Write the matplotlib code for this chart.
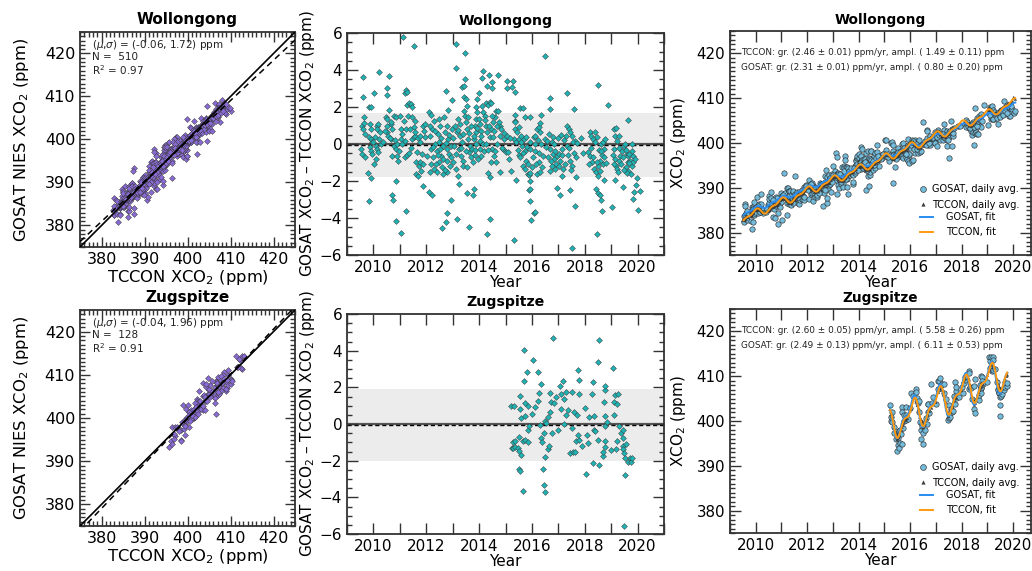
import numpy as np
import matplotlib
matplotlib.use("Agg")
import matplotlib.pyplot as plt
from matplotlib.ticker import MultipleLocator, FuncFormatter
from matplotlib.lines import Line2D

# ---------------------------------------------------------------- Wollongong
# coincident GOSAT/TCCON days: decimal year, TCCON daily XCO2 (ppm),
# GOSAT minus TCCON difference (ppm)
wol_year = [
    2009.53, 2009.55, 2009.56, 2009.59, 2009.59, 2009.59, 2009.63, 2009.65, 2009.68, 2009.80,
    2009.84, 2009.84, 2009.85, 2009.88, 2009.88, 2009.90, 2009.90, 2009.90, 2009.92, 2009.92,
    2009.96, 2010.00, 2010.03, 2010.04, 2010.09, 2010.10, 2010.12, 2010.12, 2010.15, 2010.19,
    2010.21, 2010.21, 2010.25, 2010.30,
    2010.38, 2010.46, 2010.50, 2010.50, 2010.50, 2010.53, 2010.53, 2010.55, 2010.59, 2010.60,
    2010.65, 2010.65, 2010.69, 2010.71, 2010.71, 2010.74, 2010.78, 2010.78, 2010.84, 2010.84,
    2010.85, 2010.86, 2010.88, 2010.90, 2010.94, 2011.00, 2011.03, 2011.03, 2011.05, 2011.09,
    2011.11,
    2011.15, 2011.21, 2011.21, 2011.23, 2011.24, 2011.25, 2011.28, 2011.28, 2011.28, 2011.31,
    2011.34, 2011.36, 2011.40, 2011.41, 2011.46, 2011.46, 2011.46, 2011.53, 2011.53, 2011.53,
    2011.59, 2011.59, 2011.63, 2011.63, 2011.68, 2011.69, 2011.71, 2011.78, 2011.78, 2011.80,
    2011.84, 2011.88, 2011.88, 2011.90, 2011.94, 2012.09,
    2012.09, 2012.13, 2012.13, 2012.18, 2012.18, 2012.18, 2012.21, 2012.21, 2012.26, 2012.29,
    2012.29, 2012.34, 2012.40, 2012.40, 2012.43, 2012.49, 2012.49, 2012.50, 2012.53, 2012.53,
    2012.55, 2012.60, 2012.61, 2012.65, 2012.65, 2012.68, 2012.71, 2012.74, 2012.76, 2012.78,
    2012.78, 2012.78, 2012.78, 2012.80, 2012.84, 2012.84, 2012.86, 2012.90, 2012.93, 2012.93,
    2012.96, 2012.99,
    2013.03, 2013.06, 2013.09, 2013.13, 2013.13, 2013.14, 2013.15, 2013.16, 2013.21, 2013.21,
    2013.23, 2013.25, 2013.28, 2013.30, 2013.34, 2013.36, 2013.40, 2013.40, 2013.43, 2013.44,
    2013.46, 2013.48, 2013.48, 2013.50, 2013.50, 2013.53, 2013.55, 2013.55, 2013.55, 2013.59,
    2013.60, 2013.61, 2013.65, 2013.68, 2013.75, 2013.78, 2013.78, 2013.79, 2013.80, 2013.84,
    2013.84, 2013.88, 2013.89, 2013.90, 2013.90, 2013.94, 2013.94,
    2014.00, 2014.01, 2014.03, 2014.05, 2014.05, 2014.09, 2014.09, 2014.11, 2014.11, 2014.13,
    2014.14, 2014.15, 2014.21, 2014.25, 2014.26, 2014.28, 2014.30, 2014.30, 2014.30, 2014.33,
    2014.35, 2014.36, 2014.40, 2014.40, 2014.41, 2014.43, 2014.44, 2014.45, 2014.46, 2014.49,
    2014.49, 2014.50, 2014.53, 2014.55, 2014.59, 2014.63, 2014.65, 2014.68, 2014.70, 2014.70,
    2014.78, 2014.80, 2014.80, 2014.84, 2014.90, 2014.96,
    2015.03, 2015.04, 2015.06, 2015.06, 2015.09, 2015.19, 2015.25, 2015.28, 2015.31, 2015.33,
    2015.35, 2015.35, 2015.35, 2015.36, 2015.35, 2015.38, 2015.40, 2015.44, 2015.50, 2015.50,
    2015.54, 2015.54, 2015.57, 2015.63, 2015.67, 2015.67, 2015.69, 2015.72, 2015.72, 2015.75,
    2015.79, 2015.82, 2015.84, 2015.88, 2015.89, 2015.91, 2015.91, 2015.92, 2015.92, 2015.94,
    2015.94, 2015.94, 2015.97,
    2016.01, 2016.07, 2016.09, 2016.13, 2016.13, 2016.13, 2016.19, 2016.19, 2016.26, 2016.26,
    2016.30, 2016.32, 2016.32, 2016.35, 2016.38, 2016.42, 2016.51, 2016.51, 2016.55, 2016.57,
    2016.67, 2016.67, 2016.70, 2016.70, 2016.76, 2016.76, 2016.80, 2016.82, 2016.85, 2016.89,
    2016.92, 2016.95, 2016.95,
    2017.01, 2017.05, 2017.08, 2017.10, 2017.14, 2017.14, 2017.18, 2017.26, 2017.31, 2017.33,
    2017.33, 2017.36, 2017.39, 2017.45, 2017.45, 2017.45, 2017.52, 2017.52, 2017.53, 2017.58,
    2017.60, 2017.62, 2017.64, 2017.68, 2017.85, 2017.95,
    2018.14, 2018.18, 2018.21, 2018.23, 2018.28, 2018.30, 2018.35, 2018.38, 2018.42, 2018.43,
    2018.45, 2018.48, 2018.51, 2018.52, 2018.52, 2018.52, 2018.56, 2018.58, 2018.61, 2018.61,
    2018.65, 2018.65, 2018.69, 2018.69, 2018.71, 2018.74, 2018.77, 2018.87,
    2019.04, 2019.09, 2019.09, 2019.14, 2019.15, 2019.15, 2019.18, 2019.19, 2019.21, 2019.21,
    2019.28, 2019.28, 2019.34, 2019.40, 2019.43, 2019.47, 2019.53, 2019.57, 2019.59, 2019.62,
    2019.65, 2019.65, 2019.65, 2019.69, 2019.72, 2019.78, 2019.78, 2019.82, 2019.84, 2019.84,
    2019.87, 2019.94, 2019.97, 2020.03, 2020.09,
    # days inside the +/- sigma band
    2009.70, 2009.95, 2010.07, 2010.17, 2010.42, 2010.62, 2010.68, 2010.80, 2010.97,
    2011.07, 2011.18, 2011.44, 2011.56, 2011.66, 2011.75, 2011.86, 2011.97,
    2012.04, 2012.15, 2012.24, 2012.32, 2012.37, 2012.45, 2012.57, 2012.63, 2012.70, 2012.73,
    2012.88, 2012.95,
    2013.01, 2013.11, 2013.19, 2013.26, 2013.32, 2013.38, 2013.42, 2013.52, 2013.57, 2013.63,
    2013.70, 2013.82, 2013.86, 2013.92, 2013.97,
    2014.07, 2014.17, 2014.23, 2014.32, 2014.38, 2014.48, 2014.52, 2014.57, 2014.61, 2014.66,
    2014.74, 2014.87, 2014.93,
    2015.13, 2015.16, 2015.46, 2015.52, 2015.60, 2015.65, 2015.77, 2015.86,
    2016.04, 2016.11, 2016.16, 2016.22, 2016.28, 2016.36, 2016.60, 2016.64, 2016.73, 2016.78,
    2016.87, 2016.98,
    2017.03, 2017.12, 2017.21, 2017.29, 2017.42, 2017.48, 2017.56, 2017.66, 2017.72,
    2018.16, 2018.25, 2018.33, 2018.40, 2018.47, 2018.54, 2018.59, 2018.63, 2018.73, 2018.80,
    2019.06, 2019.12, 2019.24, 2019.31, 2019.37, 2019.45, 2019.50, 2019.55, 2019.61, 2019.68,
    2019.75, 2019.80, 2019.91,
]
wol_tccon = [
    382.8, 382.7, 383.0, 382.8, 383.4, 383.2, 383.0, 383.8, 383.5, 384.2,
    383.8, 384.1, 383.7, 384.6, 384.2, 384.5, 384.9, 384.3, 384.8, 384.4,
    385.1, 385.0, 385.5, 385.1, 385.7, 385.2, 385.3, 385.6, 385.0, 385.2,
    384.7, 385.0, 384.5, 384.4,
    384.5, 384.8, 385.2, 384.8, 385.1, 385.3, 384.9, 385.0, 385.4, 385.9,
    385.6, 385.9, 386.2, 386.0, 385.8, 386.3, 386.5, 386.1, 386.2, 386.5,
    386.4, 386.1, 386.8, 386.9, 386.6, 387.4, 387.9, 387.6, 387.5, 388.0,
    387.6,
    387.5, 387.4, 387.1, 387.6, 387.2, 387.0, 386.9, 386.5, 387.1, 386.7,
    387.0, 386.6, 386.8, 386.5, 387.3, 387.6, 387.2, 387.4, 387.7, 387.3,
    388.2, 387.9, 388.0, 388.3, 388.7, 388.2, 388.4, 388.6, 389.0, 388.9,
    388.7, 389.2, 389.5, 389.3, 389.6, 390.1,
    390.0, 390.4, 390.1, 389.6, 390.0, 389.9, 389.5, 389.8, 389.6, 389.0,
    389.4, 389.5, 389.2, 389.5, 389.1, 389.7, 390.2, 390.0, 389.8, 390.3,
    390.1, 390.5, 390.9, 390.4, 390.8, 391.1, 390.7, 391.0, 390.8, 391.4,
    391.1, 391.0, 391.5, 391.3, 391.5, 391.0, 391.2, 392.0, 391.7, 392.1,
    392.3, 392.4,
    392.9, 392.4, 392.8, 392.3, 393.0, 392.7, 392.5, 392.6, 392.0, 392.4,
    392.1, 392.3, 391.8, 391.5, 391.9, 391.6, 391.9, 391.4, 391.8, 392.0,
    392.1, 392.2, 392.6, 392.5, 392.1, 392.7, 392.9, 393.3, 392.8, 393.2,
    393.0, 393.4, 393.1, 393.6, 393.3, 393.9, 393.5, 393.8, 393.6, 393.9,
    394.0, 394.4, 394.1, 394.6, 394.2, 394.9, 394.7,
    395.3, 394.8, 395.1, 394.6, 395.4, 395.2, 394.9, 395.5, 395.1, 395.3,
    394.8, 394.6, 394.9, 394.4, 394.3, 394.0, 394.5, 394.1, 394.4, 393.9,
    394.2, 394.6, 394.0, 394.4, 394.3, 394.7, 394.5, 394.1, 394.6, 394.8,
    395.2, 394.9, 395.1, 394.7, 395.6, 395.3, 395.9, 395.6, 395.8, 396.1,
    396.2, 395.9, 396.4, 396.3, 396.9, 397.2,
    397.8, 397.3, 397.6, 397.9, 397.4, 397.5, 397.0, 396.8, 396.9, 396.3,
    396.7, 396.5, 396.9, 396.4, 396.6, 396.8, 396.5, 396.9, 397.2, 397.5,
    397.0, 397.6, 397.4, 398.1, 397.8, 398.3, 398.1, 398.5, 398.0, 398.4,
    398.6, 398.9, 398.5, 399.1, 398.8, 399.4, 399.0, 399.5, 399.2, 399.6,
    399.3, 399.9, 399.7,
    400.2, 400.4, 399.8, 400.0, 400.3, 399.9, 399.8, 399.4, 399.3, 399.6,
    399.2, 398.9, 399.4, 399.0, 399.3, 398.9, 399.9, 399.6, 400.0, 400.2,
    400.5, 400.8, 400.6, 400.9, 401.0, 400.7, 401.2, 400.9, 401.4, 401.6,
    401.9, 402.0, 402.3,
    402.6, 402.2, 402.8, 402.5, 402.3, 402.7, 402.0, 401.8, 401.5, 401.9,
    401.4, 401.7, 401.3, 402.0, 401.6, 401.9, 402.1, 402.5, 402.2, 402.7,
    403.1, 402.8, 403.0, 403.4, 403.6, 404.3,
    404.8, 404.4, 404.7, 404.2, 404.3, 403.8, 404.1, 403.7, 404.2, 403.9,
    404.4, 404.5, 404.9, 404.6, 405.0, 404.8, 405.2, 405.0, 405.5, 405.1,
    405.4, 405.6, 405.9, 405.5, 405.8, 405.6, 406.1, 406.4,
    407.5, 407.3, 407.8, 407.2, 407.4, 407.0, 407.3, 406.8, 407.1, 406.7,
    406.6, 406.3, 406.8, 406.4, 406.7, 407.0, 407.4, 407.6, 407.9, 407.6,
    408.0, 408.2, 407.9, 408.3, 408.1, 408.6, 408.4, 408.8, 408.5, 408.9,
    408.7, 409.3, 409.5, 410.2, 409.8,
    # days inside the +/- sigma band
    383.4, 384.9, 385.6, 385.1, 384.6, 385.8, 386.1, 386.4, 387.2,
    387.9, 387.6, 386.9, 387.8, 388.3, 388.7, 389.0, 389.9,
    390.2, 390.0, 389.7, 389.3, 389.6, 389.4, 390.4, 390.7, 391.0, 390.8,
    391.6, 392.0,
    392.5, 392.9, 392.4, 392.0, 391.6, 391.8, 391.9, 392.4, 392.9, 393.2,
    393.5, 393.9, 394.1, 394.5, 394.8,
    395.0, 394.9, 394.5, 394.3, 394.1, 394.6, 395.0, 395.3, 395.4, 395.7,
    396.0, 396.6, 396.9,
    397.6, 397.3, 396.8, 397.1, 397.8, 398.2, 398.5, 398.7,
    400.3, 400.0, 399.7, 399.5, 399.2, 399.0, 400.3, 400.6, 400.8, 401.1,
    401.5, 402.1,
    402.5, 402.4, 401.9, 401.6, 401.8, 402.0, 402.6, 403.0, 403.3,
    404.6, 404.1, 404.0, 404.1, 404.6, 404.9, 405.2, 405.3, 405.8, 406.0,
    407.4, 407.4, 406.8, 406.5, 406.6, 406.9, 407.1, 407.5, 407.8, 408.1,
    408.3, 408.6, 409.0,
]
wol_diff = [
    -0.27, 0.99, -0.54, 3.61, 2.53, 0.81, 1.44, 1.12, -0.72, -1.57,
    -3.07, 0.36, 2.02, 1.08, -0.18, 0.81, 0.27, -1.86, 1.99, -0.36,
    0.09, 0.09, -1.08, 2.74, -0.09, -0.81, 0.99, -0.27, 0.81, 1.08,
    3.90, 0.27, 0.63, 0.00,
    0.09, 1.44, 0.99, 0.63, 3.03, 1.35, 2.65, 0.45, 3.68, 1.84,
    1.08, 0.27, -2.74, 0.81, -0.63, -3.01, 1.53, -0.09, 1.44, -0.27,
    -2.00, -4.17, 0.00, -0.63, -0.90, 1.53, 0.27, -4.82, 0.81, 0.00,
    5.81,
    1.26, -0.72, 2.76, -3.63, 0.81, 2.92, -0.60, 2.80, 2.13, 1.50,
    2.24, -0.49, 0.81, 2.18, 0.27, 1.44, 2.02, 0.36, 0.90, 5.29,
    0.45, 1.26, -0.99, -1.62, 0.31, -1.73, -1.17, -0.99, 0.45, -1.44,
    -0.54, 0.99, -2.29, 0.72, 1.08, -2.58,
    1.71, 0.45, -1.53, 1.57, -0.27, -1.08, 0.81, -2.78, -0.72, 1.26,
    -1.35, 0.00, -0.36, -1.53, 0.54, 1.35, -0.99, 0.09, 0.99, -0.27,
    -0.63, -4.55, -1.26, -1.62, -0.09, 1.44, 0.63, 2.89, -4.19, 0.99,
    -0.27, -0.90, -3.72, -1.53, 0.27, 1.84, -0.54, -1.17, -0.09, -3.01,
    0.81, 2.40,
    -0.99, -0.09, 0.99, 5.40, -1.35, 4.10, 0.63, -4.03, 1.35, -1.71,
    -2.18, -0.27, 0.45, -0.63, 0.09, 3.07, -0.90, -1.17, 3.16, 2.53,
    1.53, 4.91, 3.52, 1.17, 2.44, 2.04, 0.81, -1.26, -2.64, 0.27,
    -4.46, -0.45, -0.09, -0.72, -0.27, -0.99, -2.76, -2.44, 0.27, 0.99,
    -0.60, 0.63, 2.02, 1.35, 0.00, 1.71, 2.44,
    1.35, 2.78, -0.27, 1.08, 0.18, 0.72, -0.63, 3.57, 2.04, 0.00,
    3.97, 1.71, 1.53, 0.99, 2.22, 0.00, 3.16, 0.63, -4.89, 2.09,
    -1.57, 3.72, 0.36, -4.04, 2.29, -1.80, -0.99, 2.22, 0.81, 3.34,
    3.03, -0.27, 1.17, -0.63, 1.44, -0.99, 1.80, 0.00, 3.72, 1.80,
    0.45, 0.99, -1.50, 0.81, -0.27, 0.27,
    -0.42, 3.38, 3.01, 0.45, -0.42, -1.44, 3.10, 3.41, 0.27, -5.20,
    2.83, 1.59, 1.26, 1.17, 0.81, 0.09, -1.93, 0.63, 0.27, -0.60,
    1.95, -0.72, 0.45, -0.09, 1.93, -1.17, 0.27, 1.44, -1.35, -0.36,
    -0.90, -0.18, -1.62, -1.66, -2.47, 0.09, -3.09, 1.48, -1.59, -0.27,
    -1.99, -2.44, -4.12,
    -1.26, 0.36, -3.74, -0.36, 0.00, -3.70, 0.81, -1.62, 0.90, -0.99,
    1.12, 0.63, -1.53, 1.57, -1.26, -0.67, 4.77, 0.27, -0.18, 0.18,
    2.47, 1.90, -0.27, -1.44, 0.09, -1.17, -0.54, 0.00, -0.81, -1.35,
    -1.08, -0.63, -2.40,
    -0.54, -2.78, -0.90, 0.49, -0.27, -1.71, -1.35, -1.08, 2.76, 0.99,
    -0.09, -0.60, 0.81, 0.63, -0.90, -2.49, 0.45, -1.17, -5.60, -0.49,
    1.88, -3.36, 0.18, -1.80, 0.30, -0.50,
    -0.45, 0.63, -0.63, 0.45, -0.99, 0.27, -1.35, 0.63, -2.45, -1.53,
    0.36, -4.89, -2.65, 3.19, -1.17, -1.71, -2.73, -0.90, 0.00, -3.03,
    -0.60, -3.61, 0.09, -1.08, -0.27, -1.93, 0.27, 2.11,
    -3.39, 0.81, -0.27, -1.93, 0.45, -0.81, 0.85, -1.17, 0.18, -1.35,
    0.41, -0.90, -0.63, -0.36, -2.35, -0.09, 0.00, -1.26, -0.54, -0.99,
    1.30, -0.63, -1.44, -0.54, -0.90, -1.17, 0.00, -0.99, -0.63, -2.98,
    -2.58, -2.22, -1.86, -3.59, -2.55,
    # days inside the +/- sigma band
    0.55, -0.55, 0.40, -0.45, 0.70, 0.35, 1.20, 0.20, -0.40,
    0.55, 0.15, -0.20, 0.65, -0.45, 0.10, -1.10, 0.40,
    -0.65, 0.95, -0.15, 0.70, -1.10, -0.60, 0.35, -0.80, -1.40, 0.05,
    0.50, -0.70,
    0.30, -0.55, 0.75, 1.10, -0.20, 0.55, 1.80, -0.40, 1.45, 0.60,
    1.00, 0.45, -0.30, 0.85, -0.80,
    0.45, -0.40, 1.30, -0.35, 1.00, 1.50, 0.40, 0.70, -0.40, 0.95,
    1.20, -0.20, 0.60,
    -0.80, 0.30, -0.30, 0.90, 0.10, -0.50, 0.40, -1.10,
    -0.70, 0.45, -1.10, 0.20, -0.50, 0.00, -0.70, 0.55, -0.90, 0.40,
    -0.40, 0.30,
    -1.20, -0.60, 0.20, 0.45, -0.20, -1.40, 0.10, -0.70, 0.05,
    -1.10, -0.20, -0.70, 0.10, -0.95, -0.35, -1.45, -0.40, -0.70, -1.00,
    -0.60, -1.10, -1.50, -0.20, -1.10, -0.70, -1.40, -0.30, -1.55, -1.00,
    -1.60, -0.40, -0.80,
]

# ---------------------------------------------------------------- Zugspitze
zug_year = [
    2015.22, 2015.25, 2015.27, 2015.28, 2015.31, 2015.36, 2015.37, 2015.46, 2015.50, 2015.52,
    2015.52, 2015.55, 2015.55, 2015.55, 2015.59, 2015.59, 2015.65, 2015.68, 2015.70, 2015.70,
    2015.72, 2015.75, 2015.75, 2015.83, 2015.84, 2015.85, 2015.85, 2015.90, 2016.00, 2016.05,
    2016.11, 2016.23, 2016.23, 2016.28, 2016.30, 2016.33, 2016.34, 2016.38, 2016.43, 2016.44,
    2016.46, 2016.48, 2016.50, 2016.51, 2016.53, 2016.59, 2016.60, 2016.65, 2016.69, 2016.69,
    2016.71, 2016.75, 2016.81, 2016.84, 2016.90, 2017.00, 2017.08, 2017.10, 2017.11, 2017.18,
    2017.21, 2017.23, 2017.30, 2017.30, 2017.38, 2017.46, 2017.50, 2017.50, 2017.55, 2017.59,
    2017.63, 2017.65, 2017.71, 2017.73, 2017.76, 2017.78, 2017.78, 2017.79, 2017.90, 2018.00,
    2018.06, 2018.10, 2018.13, 2018.15, 2018.28, 2018.30, 2018.30, 2018.34, 2018.35, 2018.40,
    2018.50, 2018.50, 2018.54, 2018.54, 2018.68, 2018.69, 2018.71, 2018.75, 2018.75, 2018.75,
    2018.75, 2018.78, 2018.78, 2018.85, 2019.00, 2019.08, 2019.09, 2019.09, 2019.13, 2019.20,
    2019.21, 2019.21, 2019.24, 2019.30, 2019.38, 2019.43, 2019.43, 2019.45, 2019.46, 2019.48,
    2019.50, 2019.51, 2019.53, 2019.58, 2019.64, 2019.70, 2019.76, 2019.78,
]
zug_tccon = [
    402.6, 401.4, 401.9, 401.0, 400.9, 399.5, 398.5, 397.2, 395.8, 396.9,
    396.1, 396.3, 397.0, 396.5, 397.6, 396.8, 398.0, 398.6, 399.0, 399.7,
    399.2, 400.3, 399.6, 400.2, 401.0, 400.4, 401.1, 400.6, 402.3, 402.7,
    404.7, 404.3, 405.1, 403.5, 404.0, 402.3, 402.8, 400.8, 400.4, 399.4,
    399.9, 398.8, 399.2, 398.5, 399.5, 399.4, 400.3, 400.6, 402.2, 401.4,
    402.5, 402.2, 403.5, 402.9, 403.9, 404.2, 406.8, 406.4, 407.3, 407.2,
    408.0, 406.9, 406.6, 405.8, 404.1, 401.7, 401.8, 401.0, 402.4, 402.0,
    403.5, 403.1, 405.1, 404.5, 405.7, 405.1, 405.9, 405.2, 406.5, 406.8,
    408.9, 409.0, 410.1, 409.5, 409.5, 408.4, 409.2, 407.2, 407.7, 405.3,
    404.4, 403.6, 404.8, 404.0, 406.4, 407.4, 406.9, 408.2, 407.4, 408.2,
    407.6, 407.7, 408.5, 408.1, 410.2, 411.2, 412.2, 411.4, 412.7, 412.6,
    413.2, 412.4, 412.0, 411.8, 409.3, 407.4, 408.2, 407.1, 407.7, 406.6,
    407.0, 406.3, 407.3, 407.1, 408.9, 409.4, 410.0, 410.3,
]
zug_diff = [
    0.98, -1.30, -1.00, -1.30, 1.00, -0.92, -1.23, -1.32, -2.44, -0.69,
    -1.48, 1.54, 0.81, -2.55, 0.33, -1.68, -0.90, -3.67, 4.02, 2.35,
    -0.87, 1.12, 0.42, 2.86, -0.31, 0.96, -0.96, -0.10, 0.55, 3.48,
    0.94, 2.86, 1.27, 1.68, -0.07, 2.17, -0.76, -0.99, -2.46, -3.31,
    -0.49, 0.18, -1.79, -3.71, 0.05, -1.36, 0.40, -1.18, 1.67, 0.67,
    1.21, -0.51, 4.67, 1.12, 1.50, -0.30, 2.06, 0.81, 1.61, 2.35,
    0.00, 1.36, 1.77, 0.51, 0.78, -1.57, 1.77, -0.22, -1.50, 0.63,
    -1.54, -0.95, 0.49, -0.60, 2.97, 1.61, -0.87, 2.41, -1.20, 0.90,
    -2.75, -0.58, -1.01, 0.36, 1.61, 2.30, -2.15, 0.45, -0.33, -0.40,
    3.40, -0.85, 4.56, -2.23, -1.72, -1.54, 1.18, 1.85, -0.09, -0.94,
    -1.27, 2.08, 0.42, 0.10, -1.40, 3.06, 1.18, 0.49, 1.57, -1.36,
    1.07, -0.94, 1.63, -0.10, -0.51, -0.33, -1.18, -0.78, -1.39, -5.56,
    -1.59, -2.79, -1.83, -1.10, -2.08, -1.85, -2.08, -1.83,
]

# summary statistics printed on the panels
site_names = ["Wollongong", "Zugspitze"]
bias_mean = [-0.06, -0.04]
bias_std = [1.72, 1.96]
n_pairs = [510, 128]
r_squared = [0.97, 0.91]

# fitted trend + seasonal cycle parameters: growth (ppm/yr) and amplitude (ppm)
tccon_growth = [2.46, 2.60]
tccon_growth_err = [0.01, 0.05]
tccon_ampl = [1.49, 5.58]
tccon_ampl_err = [0.11, 0.26]
gosat_growth = [2.31, 2.49]
gosat_growth_err = [0.01, 0.13]
gosat_ampl = [0.80, 6.11]
gosat_ampl_err = [0.20, 0.53]
# level at the reference epoch and phase of the seasonal cycle
fit_ref_year = [2015.0, 2017.5]
tccon_level = [396.6, 405.0]
gosat_level = [396.8, 405.1]
tccon_phase = [0.71, 0.85]
gosat_phase = [0.71, 0.83]

site_year = [wol_year, zug_year]
site_tccon = [wol_tccon, zug_tccon]
site_diff = [wol_diff, zug_diff]


def seasonal_fit(t, level, t_ref, growth, ampl, phase):
    """Linear growth plus a two-harmonic (saw-tooth like) seasonal cycle."""
    th = 2 * np.pi * (t - phase)
    return level + growth * (t - t_ref) + ampl / 4.0 * (2 * np.sin(th) - np.sin(2 * th))


plt.rcParams.update({
    "font.family": ["DejaVu Sans"],
    "axes.linewidth": 1.3,
    "axes.edgecolor": "#333333",
    "xtick.color": "#333333",
    "ytick.color": "#333333",
    "xtick.labelcolor": "black",
    "ytick.labelcolor": "black",
    "mathtext.fontset": "dejavusans",
})

W, H = 1032, 571
fig = plt.figure(figsize=(W / 100, H / 100), dpi=100)


def px_rect(x0, y0, x1, y1):
    return [x0 / W, 1 - y1 / H, (x1 - x0) / W, (y1 - y0) / H]


rects = [
    (px_rect(80, 32, 295, 247), px_rect(347, 33, 664, 255), px_rect(730, 31, 1031, 255)),
    (px_rect(80, 310, 295, 526), px_rect(347, 314, 664, 534), px_rect(730, 309, 1031, 533)),
]


def style_ticks(ax, major_len=7, minor_len=3.5):
    ax.tick_params(which="both", direction="in", top=True, right=True, width=1.0)
    ax.tick_params(which="major", length=major_len)
    ax.tick_params(which="minor", length=minor_len)


even_year = FuncFormatter(lambda v, p: f"{int(round(v))}" if int(round(v)) % 2 == 0 else "")

GOSAT_FACE = "#74BCDB"
TCCON_MARK = "#3a3a3a"
GOSAT_LINE = "#2A8CF0"
TCCON_LINE = "#FF9A10"

for row in range(2):
    year = np.array(site_year[row])
    tccon = np.array(site_tccon[row])
    diff = np.array(site_diff[row])
    gosat = tccon + diff
    mu, sd = bias_mean[row], bias_std[row]
    r_left, r_mid, r_right = rects[row]

    # ---- GOSAT vs TCCON scatter
    ax = fig.add_axes(r_left)
    ax.scatter(tccon, gosat, marker="D", s=9, c="#8A6BD6", edgecolors="#3c3c3c",
               linewidths=0.35, zorder=2)
    lim = np.array([375.0, 425.0])
    ax.plot(lim, lim, color="black", lw=1.2, zorder=3)
    slope, icpt = np.polyfit(tccon, gosat, 1)
    ax.plot(lim, icpt + slope * lim, color="black", lw=1.1, ls=(0, (4, 3)), zorder=3)
    ax.set_xlim(lim)
    ax.set_ylim(lim)
    ax.xaxis.set_major_locator(MultipleLocator(10))
    ax.yaxis.set_major_locator(MultipleLocator(10))
    ax.xaxis.set_minor_locator(MultipleLocator(1))
    ax.yaxis.set_minor_locator(MultipleLocator(1))
    style_ticks(ax)
    ax.tick_params(labelsize=11.5)
    ax.set_xlabel("TCCON XCO$_2$ (ppm)", fontsize=11.8, labelpad=1)
    ax.set_ylabel("GOSAT NIES XCO$_2$ (ppm)", fontsize=11.8, labelpad=10)
    ax.set_title(site_names[row], fontsize=11, fontweight="bold", pad=6)
    stats = [f"($\\mu$,$\\sigma$) = ({mu:.2f}, {sd:.2f}) ppm",
             f"N =  {n_pairs[row]}",
             f"R$^2$ = {r_squared[row]:.2f}"]
    for k, s in enumerate(stats):
        ax.text(0.055, 0.94 - 0.058 * k, s, transform=ax.transAxes, fontsize=7.5,
                va="center", ha="left", color="#222222")

    # ---- difference time series
    ax = fig.add_axes(r_mid)
    ax.axhspan(mu - sd, mu + sd, color="#ececec", zorder=0, lw=0)
    ax.axhline(0, color="#555555", lw=1.6, zorder=1)
    ax.axhline(mu, color="black", lw=1.0, ls=(0, (3, 2)), zorder=1)
    ax.scatter(year, diff, marker="D", s=9, c="#1FB3B3", edgecolors="#3c3c3c",
               linewidths=0.35, zorder=2)
    ax.set_xlim(2009, 2021)
    ax.set_ylim(-6, 6)
    ax.xaxis.set_major_locator(MultipleLocator(1))
    ax.xaxis.set_major_formatter(even_year)
    ax.yaxis.set_major_locator(MultipleLocator(2))
    ax.yaxis.set_minor_locator(MultipleLocator(0.5))
    style_ticks(ax, 8, 3.5)
    ax.tick_params(labelsize=11)
    ax.set_xlabel("Year", fontsize=11, labelpad=0)
    ax.set_ylabel("GOSAT XCO$_2$ \u2013 TCCON XCO$_2$ (ppm)", fontsize=11, labelpad=2)
    ax.set_title(site_names[row], fontsize=10.2, fontweight="bold", pad=6)

    # ---- time series with fits
    ax = fig.add_axes(r_right)
    ax.scatter(year, gosat, marker="o", s=15, c=GOSAT_FACE, edgecolors="#2e2e2e",
               linewidths=0.45, zorder=2)
    ax.scatter(year, tccon, marker="^", s=6, c=TCCON_MARK, edgecolors="none",
               alpha=0.9, zorder=3)
    tf = np.linspace(year.min(), year.max(), 600)
    ax.plot(tf, seasonal_fit(tf, gosat_level[row], fit_ref_year[row], gosat_growth[row],
                             gosat_ampl[row], gosat_phase[row]),
            color=GOSAT_LINE, lw=1.4, zorder=4)
    ax.plot(tf, seasonal_fit(tf, tccon_level[row], fit_ref_year[row], tccon_growth[row],
                             tccon_ampl[row], tccon_phase[row]),
            color=TCCON_LINE, lw=1.4, zorder=4)
    ax.set_xlim(2009, 2020.7)
    ax.set_ylim(375, 425)
    ax.xaxis.set_major_locator(MultipleLocator(1))
    ax.xaxis.set_major_formatter(even_year)
    ax.yaxis.set_major_locator(MultipleLocator(10))
    ax.yaxis.set_minor_locator(MultipleLocator(1))
    style_ticks(ax, 8, 3.5)
    ax.tick_params(labelsize=10.8)
    ax.set_xlabel("Year", fontsize=11, labelpad=0)
    ax.set_ylabel("XCO$_2$ (ppm)", fontsize=11, labelpad=6)
    ax.set_title(site_names[row], fontsize=9.8, fontweight="bold", pad=5)
    lines = [
        f"TCCON: gr. ({tccon_growth[row]:.2f} \u00b1 {tccon_growth_err[row]:.2f}) ppm/yr, "
        f"ampl. ({tccon_ampl[row]:5.2f} \u00b1 {tccon_ampl_err[row]:.2f}) ppm",
        f"GOSAT: gr. ({gosat_growth[row]:.2f} \u00b1 {gosat_growth_err[row]:.2f}) ppm/yr, "
        f"ampl. ({gosat_ampl[row]:5.2f} \u00b1 {gosat_ampl_err[row]:.2f}) ppm",
    ]
    for k, s in enumerate(lines):
        ax.text(0.038, 0.902 - 0.067 * k, s, transform=ax.transAxes, fontsize=6.4,
                va="center", ha="left", color="#222222")

    mk_handles = [
        Line2D([], [], ls="none", marker="o", ms=4.2, mfc=GOSAT_FACE, mec="#2e2e2e", mew=0.45),
        Line2D([], [], ls="none", marker="^", ms=3.0, mfc=TCCON_MARK, mec="none"),
    ]
    leg1 = ax.legend(mk_handles, ["GOSAT, daily avg.", "TCCON, daily avg."],
                     loc="upper left", bbox_to_anchor=(0.627, 0.316), frameon=False,
                     fontsize=7.0, handlelength=0.8, handletextpad=0.55,
                     borderpad=0, borderaxespad=0, labelspacing=0.55)
    ln_handles = [Line2D([], [], color=GOSAT_LINE, lw=1.4),
                  Line2D([], [], color=TCCON_LINE, lw=1.4)]
    ax.legend(ln_handles, ["GOSAT, fit", "TCCON, fit"], loc="upper left",
              bbox_to_anchor=(0.631, 0.192), frameon=False, fontsize=7.0,
              handlelength=1.35, handletextpad=1.35, borderpad=0, borderaxespad=0,
              labelspacing=0.55)
    ax.add_artist(leg1)

fig.savefig("out.png", dpi=100)
